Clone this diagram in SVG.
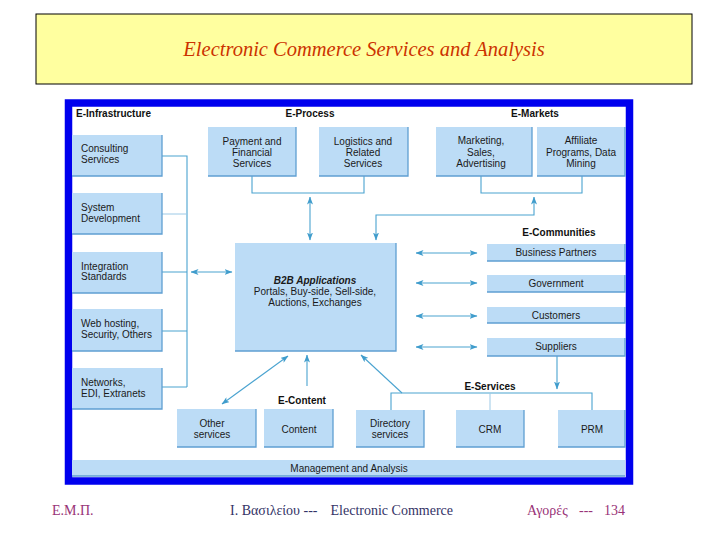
<svg xmlns="http://www.w3.org/2000/svg" width="720" height="540" viewBox="0 0 720 540">
<defs>
<marker id="ah" viewBox="0 0 8 6" refX="7.5" refY="3" markerWidth="8" markerHeight="6" markerUnits="userSpaceOnUse" orient="auto-start-reverse">
<path d="M0,0 L8,3 L0,6 L2,3 Z" fill="#3f9ccc"/>
</marker>
<style>
.bx{fill:#bcdcf6}
.ed{fill:none;stroke:#5f9fd2;stroke-width:1.3}
.t{font-family:"Liberation Sans",Arial,sans-serif;font-size:10px;fill:#1a1a1a}
.c{text-anchor:middle}
.h{font-family:"Liberation Sans",Arial,sans-serif;font-size:10px;font-weight:bold;fill:#111}
.ln{fill:none;stroke:#4aa3d0;stroke-width:1.1}
.lt{fill:none;stroke:#9cc9e6;stroke-width:1}
.ar{fill:none;stroke:#4aa3d0;stroke-width:1.1;marker-start:url(#ah);marker-end:url(#ah)}
.ae{fill:none;stroke:#4aa3d0;stroke-width:1.1;marker-end:url(#ah)}
.ft{font-family:"Liberation Serif","Times New Roman",serif;font-size:14px}
</style>
</defs>
<rect width="720" height="540" fill="#ffffff"/>
<g id="title">
<rect x="36" y="14" width="656" height="70" fill="#ffff9f" stroke="#000" stroke-width="1"/>
<text x="364" y="56" text-anchor="middle" font-family="Liberation Serif,'Times New Roman',serif" font-style="italic" font-size="20.5" fill="#cc3300">Electronic Commerce Services and Analysis</text>
</g>
<g id="frame">
<rect x="68.5" y="103" width="561" height="378" fill="#ffffff" stroke="#0000ee" stroke-width="7.5"/>
</g>
<g id="headers">
<text class="h" x="76" y="117">E-Infrastructure</text>
<text class="h c" x="310" y="117">E-Process</text>
<text class="h c" x="535" y="117">E-Markets</text>
<text class="h c" x="559" y="236">E-Communities</text>
<text class="h c" x="490" y="390">E-Services</text>
<text class="h c" x="302" y="404">E-Content</text>
</g>
<g id="connectors">
<path class="ln" d="M162,156 H187 V387 M162,272 H187 M162,331 H187 M162,387 H187"/>
<path class="lt" d="M162,214 H187"/>
<path class="ar" d="M191,272 H232"/>
<path class="ln" d="M252,176 V193 H364 V176"/>
<path class="ar" d="M310,197 V240"/>
<path class="ln" d="M481,176 V193 H582 V176"/>
<path class="ar" d="M534,197 V215 H376 V240"/>
<path class="ar" d="M416,253 H477"/>
<path class="ar" d="M416,283 H477"/>
<path class="ar" d="M416,316 H477"/>
<path class="ar" d="M416,347 H477"/>
<path class="ae" d="M557,356 V389"/>
<path class="ln" d="M391,410 V393 H592 V410"/>
<path class="lt" d="M490,393 V410"/>
<path class="ae" d="M402,393 L361,355" stroke-width="0.9"/>
<path class="ae" d="M307,386 V355"/>
<path class="ar" d="M222,404 L288,356" stroke-width="0.9"/>
</g>
<g id="consulting"><rect class="bx" x="72" y="135" width="90" height="41"/><path class="ed" d="M72,176 H162 V135"/><text class="t" x="81" y="152">Consulting</text><text class="t" x="81" y="163">Services</text></g>
<g id="sysdev"><rect class="bx" x="72" y="193" width="90" height="41"/><path class="ed" d="M72,234 H162 V193"/><text class="t" x="81" y="211">System</text><text class="t" x="81" y="222">Development</text></g>
<g id="integration"><rect class="bx" x="72" y="252" width="90" height="41"/><path class="ed" d="M72,293 H162 V252"/><text class="t" x="81" y="270">Integration</text><text class="t" x="81" y="280">Standards</text></g>
<g id="webhosting"><rect class="bx" x="72" y="309" width="90" height="42"/><path class="ed" d="M72,351 H162 V309"/><text class="t" x="81" y="327">Web hosting,</text><text class="t" x="81" y="338">Security, Others</text></g>
<g id="networks"><rect class="bx" x="72" y="368" width="90" height="41"/><path class="ed" d="M72,409 H162 V368"/><text class="t" x="81" y="386">Networks,</text><text class="t" x="81" y="397">EDI, Extranets</text></g>
<g id="payment"><rect class="bx" x="208" y="127" width="88" height="49"/><path class="ed" d="M208,176 H296 V127"/><text class="t c" x="252" y="145">Payment and</text><text class="t c" x="252" y="156">Financial</text><text class="t c" x="252" y="167">Services</text></g>
<g id="logistics"><rect class="bx" x="319" y="127" width="89" height="49"/><path class="ed" d="M319,176 H408 V127"/><text class="t c" x="363" y="145">Logistics and</text><text class="t c" x="363" y="156">Related</text><text class="t c" x="363" y="167">Services</text></g>
<g id="marketing"><rect class="bx" x="436" y="127" width="96" height="49"/><path class="ed" d="M436,176 H532 V127"/><text class="t c" x="481" y="144">Marketing,</text><text class="t c" x="481" y="156">Sales,</text><text class="t c" x="481" y="167">Advertising</text></g>
<g id="affiliate"><rect class="bx" x="537" y="127" width="88" height="49"/><path class="ed" d="M537,176 H625 V127"/><text class="t c" x="581" y="144">Affiliate</text><text class="t c" x="581" y="156">Programs, Data</text><text class="t c" x="581" y="167">Mining</text></g>
<g id="b2b"><rect class="bx" x="235" y="243" width="161" height="108"/><path class="ed" d="M235,351 H396 V243"/><text class="t c" x="315" y="284" font-weight="bold" font-style="italic">B2B Applications</text><text class="t c" x="315" y="295">Portals, Buy-side, Sell-side,</text><text class="t c" x="315" y="306">Auctions, Exchanges</text></g>
<g id="partners"><rect class="bx" x="487" y="244" width="138" height="17"/><path class="ed" d="M487,261 H625 V244"/><text class="t c" x="556" y="256">Business Partners</text></g>
<g id="government"><rect class="bx" x="487" y="275" width="138" height="17"/><path class="ed" d="M487,292 H625 V275"/><text class="t c" x="556" y="287">Government</text></g>
<g id="customers"><rect class="bx" x="487" y="307" width="138" height="16"/><path class="ed" d="M487,323 H625 V307"/><text class="t c" x="556" y="319">Customers</text></g>
<g id="suppliers"><rect class="bx" x="487" y="338" width="138" height="18"/><path class="ed" d="M487,356 H625 V338"/><text class="t c" x="556" y="350">Suppliers</text></g>
<g id="other"><rect class="bx" x="177" y="409" width="79" height="38"/><path class="ed" d="M177,447 H256 V409"/><text class="t c" x="212" y="427">Other</text><text class="t c" x="212" y="438">services</text></g>
<g id="content"><rect class="bx" x="264" y="409" width="69" height="38"/><path class="ed" d="M264,447 H333 V409"/><text class="t c" x="299" y="433">Content</text></g>
<g id="directory"><rect class="bx" x="356" y="410" width="68" height="37"/><path class="ed" d="M356,447 H424 V410"/><text class="t c" x="390" y="427">Directory</text><text class="t c" x="390" y="438">services</text></g>
<g id="crm"><rect class="bx" x="456" y="410" width="68" height="37"/><path class="ed" d="M456,447 H524 V410"/><text class="t c" x="490" y="433">CRM</text></g>
<g id="prm"><rect class="bx" x="558" y="410" width="67" height="37"/><path class="ed" d="M558,447 H625 V410"/><text class="t c" x="592" y="433">PRM</text></g>
<g id="management"><rect class="bx" x="72" y="460" width="553" height="16"/><path class="ed" d="M72,476 H625"/><text class="t c" x="349" y="472">Management and Analysis</text></g>
<g id="footer">
<text class="ft" x="52" y="515" fill="#993377">Ε.Μ.Π.</text>
<text class="ft" x="230" y="515" fill="#333366" font-size="13">Ι. Βασιλείου ---</text>
<text class="ft" x="453" y="515" fill="#333366" text-anchor="end">Electronic Commerce</text>
<text class="ft" x="527" y="515" fill="#993377">Αγορές</text>
<text class="ft" x="579" y="515" fill="#993377">---</text>
<text class="ft" x="604" y="515" fill="#993377">134</text>
</g>
</svg>
